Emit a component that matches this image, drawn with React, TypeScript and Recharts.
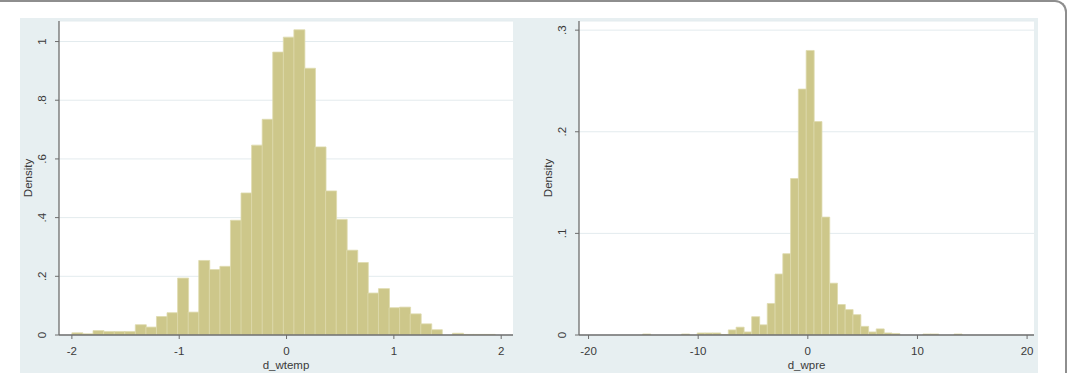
import { Bar, CartesianGrid, ComposedChart, XAxis, YAxis } from "recharts";

// d_wtemp histogram: bins start at -2.0, width ~0.0985
const tempBinStart = -2.0;
const tempBinWidth = 0.0985;
const tempDensity = [
  0.0075, 0.004, 0.015, 0.012, 0.012, 0.012, 0.035, 0.027, 0.063, 0.076,
  0.194, 0.078, 0.254, 0.223, 0.234, 0.391, 0.484, 0.647, 0.735, 0.964,
  1.015, 1.04, 0.909, 0.641, 0.491, 0.394, 0.289, 0.247, 0.143, 0.158,
  0.093, 0.095, 0.072, 0.038, 0.018, 0, 0.006, 0.002, 0.002, 0.002, 0,
];
const tempXTicks = [-2, -1, 0, 1, 2];
const tempYTicks = [0, 0.2, 0.4, 0.6, 0.8, 1];

// d_wpre histogram: bins start at -15.06, width ~0.71
const preBinStart = -15.06;
const preBinWidth = 0.71;
const preDensity = [
  0.001, 0, 0, 0, 0, 0.001, 0, 0.002, 0.002, 0.002,
  0.0005, 0.005, 0.0077, 0.003, 0.018, 0.01, 0.031, 0.06, 0.08, 0.154,
  0.242, 0.28, 0.21, 0.116, 0.051, 0.03, 0.025, 0.02, 0.0085, 0.003,
  0.006, 0.002, 0.0015, 0, 0, 0, 0.001, 0.001, 0, 0, 0.001,
];
const preXTicks = [-20, -10, 0, 10, 20];
const preYTicks = [0, 0.1, 0.2, 0.3];

const FONT = "'Liberation Sans', Arial, sans-serif";
const TEXT = "#3a3a3a";
const AXIS = "#6e6e6e";
const BAR = "#cdc78a";
const BAR_EDGE = "#dedaae";
const GRID = "#e3ebee";
const PANEL = "#e7eff1";

const fmt = (v: number) => (v === 0 ? "0" : v === 1 ? "1" : String(v).replace(/^0/, ""));

const toBins = (start: number, width: number, values: number[]) =>
  values.map((density, i) => ({ x: start + width * (i + 0.5), density }));

function YTick({ x, y, payload }: any) {
  return (
    <text
      x={x}
      y={y}
      transform={`rotate(-90 ${x} ${y})`}
      textAnchor="middle"
      dominantBaseline="central"
      fontSize={11.5}
      fontFamily={FONT}
      fill={TEXT}
    >
      {fmt(payload.value)}
    </text>
  );
}

function XTick({ x, y, payload }: any) {
  return (
    <text
      x={x}
      y={y}
      textAnchor="middle"
      dominantBaseline="central"
      fontSize={11.5}
      fontFamily={FONT}
      fill={TEXT}
    >
      {payload.value}
    </text>
  );
}

const yTitle = (props: any) => {
  const { x, y, height } = props.viewBox;
  const cx = x + 8;
  const cy = y + height / 2;
  return (
    <text
      x={cx}
      y={cy}
      transform={`rotate(-90 ${cx} ${cy})`}
      textAnchor="middle"
      dominantBaseline="central"
      fontSize={11.5}
      fontFamily={FONT}
      fill={TEXT}
    >
      Density
    </text>
  );
};

const xTitle = (title: string) => (props: any) => {
  const { x, y, width } = props.viewBox;
  return (
    <text
      x={x + width / 2}
      y={y + 30}
      textAnchor="middle"
      dominantBaseline="central"
      fontSize={11.5}
      fontFamily={FONT}
      fill={TEXT}
    >
      {title}
    </text>
  );
};

function Histogram({
  data,
  xDomain,
  yDomain,
  xTicks,
  yTicks,
  title,
  width,
}: {
  data: { x: number; density: number }[];
  xDomain: [number, number];
  yDomain: [number, number];
  xTicks: number[];
  yTicks: number[];
  title: string;
  width: number;
}) {
  return (
    <ComposedChart
      width={width}
      height={355}
      data={data}
      margin={{ top: 3, right: 0, bottom: 0, left: 0 }}
      barCategoryGap={0}
      barGap={0}
    >
      <CartesianGrid vertical={false} stroke={GRID} fill="#ffffff" />
      <XAxis
        type="number"
        dataKey="x"
        domain={xDomain}
        allowDataOverflow
        ticks={xTicks}
        interval={0}
        height={38}
        tickSize={4}
        tickMargin={12}
        tick={<XTick />}
        axisLine={{ stroke: AXIS, strokeWidth: 1.3 }}
        tickLine={{ stroke: AXIS }}
        label={xTitle(title)}
      />
      <YAxis
        type="number"
        domain={yDomain}
        allowDataOverflow
        ticks={yTicks}
        interval={0}
        width={39}
        tickSize={4}
        tickMargin={13}
        tick={<YTick />}
        axisLine={{ stroke: AXIS, strokeWidth: 1.3 }}
        tickLine={{ stroke: AXIS }}
        label={yTitle}
      />
      <Bar
        dataKey="density"
        fill={BAR}
        stroke={BAR_EDGE}
        strokeWidth={0.8}
        isAnimationActive={false}
      />
    </ComposedChart>
  );
}

export default function App() {
  return (
    <div
      style={{
        position: "absolute",
        left: 0,
        top: 0,
        width: 1068,
        height: 373,
        overflow: "hidden",
        background: "#ffffff",
      }}
    >
      <div
        style={{
          position: "absolute",
          left: -6,
          top: 0,
          width: 1073,
          height: 420,
          boxSizing: "border-box",
          borderTop: "2px solid #8e8e8e",
          borderRight: "2px solid #8e8e8e",
          borderTopRightRadius: 12,
        }}
      />
      <div
        style={{
          position: "absolute",
          left: 20,
          top: 18,
          width: 1018,
          height: 360,
          background: PANEL,
        }}
      />
      <div style={{ position: "absolute", left: 20, top: 18 }}>
        <Histogram
          data={toBins(tempBinStart, tempBinWidth, tempDensity)}
          xDomain={[-2.12, 2.11]}
          yDomain={[0, 1.07]}
          xTicks={tempXTicks}
          yTicks={tempYTicks}
          title="d_wtemp"
          width={493}
        />
      </div>
      <div style={{ position: "absolute", left: 540, top: 18 }}>
        <Histogram
          data={toBins(preBinStart, preBinWidth, preDensity)}
          xDomain={[-20.87, 20.63]}
          yDomain={[0, 0.309]}
          xTicks={preXTicks}
          yTicks={preYTicks}
          title="d_wpre"
          width={494}
        />
      </div>
    </div>
  );
}
